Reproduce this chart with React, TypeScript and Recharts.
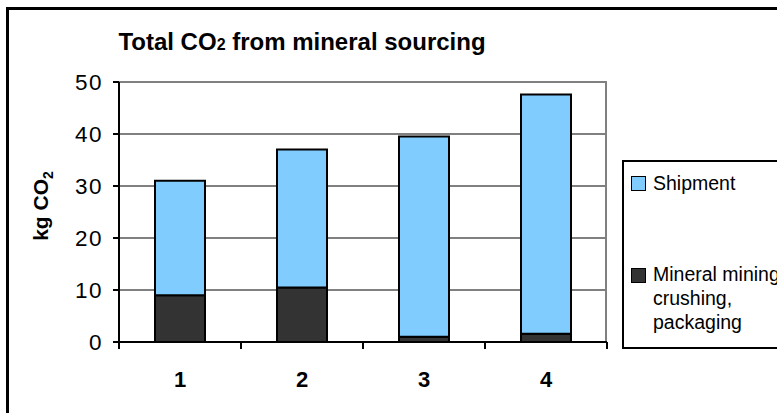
import { BarChart, Bar, XAxis, YAxis, CartesianGrid } from "recharts";

const categories = ["1", "2", "3", "4"];
const mining = [9, 10.5, 1, 1.6];
const shipment = [22, 26.5, 38.5, 46];
const yTicks = [0, 10, 20, 30, 40, 50];

const data = categories.map((c, i) => ({ name: c, mining: mining[i], shipment: shipment[i] }));

const W = 777;
const H = 413;
const MARGIN = { top: 82, right: 170, left: 60, bottom: 31 };
const Y_AXIS_W = 59;
const BAND = (W - MARGIN.left - Y_AXIS_W - MARGIN.right) / categories.length;

const FONT = "Arial, 'Liberation Sans', sans-serif";

const XTick = (props: any) => {
  const { x, y, payload, index } = props;
  const left = x - BAND / 2;
  return (
    <g>
      <line x1={left} y1={y - 8} x2={left} y2={y - 1} stroke="#000" strokeWidth={2} />
      {index === categories.length - 1 && (
        <line x1={x + BAND / 2} y1={y - 8} x2={x + BAND / 2} y2={y - 1} stroke="#000" strokeWidth={2} />
      )}
      <text x={x} y={y + 37} textAnchor="middle" fontFamily={FONT} fontWeight="bold" fontSize={22} fill="#000">
        {payload.value}
      </text>
    </g>
  );
};

const YTick = (props: any) => {
  const { x, y, payload } = props;
  return (
    <text x={x - 8} y={y + 8} textAnchor="end" fontFamily={FONT} fontSize={22.5} fill="#000" style={{ letterSpacing: 1.5 }}>
      {payload.value}
    </text>
  );
};

const LegendBox = () => (
  <div
    style={{
      position: "absolute",
      left: 622,
      top: 160,
      border: "2px solid #000",
      borderRight: "none",
      height: 189,
      width: 170,
      boxSizing: "border-box",
      fontFamily: FONT,
      fontSize: 19.5,
      color: "#000",
      background: "#fff",
    }}
  >
    <div style={{ position: "absolute", left: 7, top: 14, width: 13, height: 13, background: "#80ccff", border: "1.5px solid #000" }} />
    <div style={{ position: "absolute", left: 29, top: 9, lineHeight: "24px" }}>Shipment</div>
    <div style={{ position: "absolute", left: 7, top: 106, width: 13, height: 13, background: "#333", border: "1.5px solid #000" }} />
    <div style={{ position: "absolute", left: 29, top: 100, lineHeight: "24px", whiteSpace: "nowrap" }}>
      Mineral mining,
      <br />
      crushing,
      <br />
      packaging
    </div>
  </div>
);

const YLabel = (props: any) => {
  const { viewBox } = props;
  const cx = 48;
  const cy = viewBox.y + viewBox.height / 2 - 6;
  return (
    <text
      x={cx}
      y={cy}
      transform={`rotate(-90, ${cx}, ${cy})`}
      textAnchor="middle"
      fontFamily={FONT}
      fontWeight="bold"
      fontSize={21}
      fill="#000"
    >
      kg CO<tspan fontSize={14} dy={5}>2</tspan>
    </text>
  );
};

export default function App() {
  return (
    <div
      style={{
        position: "absolute",
        left: 0,
        top: 0,
        width: W,
        height: H,
        overflow: "hidden",
        background: "#fff",
      }}
    >
      <div
        style={{
          position: "absolute",
          left: 6,
          top: 7,
          width: W + 20,
          height: H + 20,
          borderLeft: "3px solid #000",
          borderTop: "3px solid #000",
        }}
      />
      <div
        style={{
          position: "absolute",
          left: 0,
          width: 604,
          top: 28,
          textAlign: "center",
          fontFamily: FONT,
          fontWeight: "bold",
          fontSize: 24,
          color: "#000",
        }}
      >
        Total CO<span style={{ fontSize: 16 }}>2</span> from mineral sourcing
      </div>
      <div style={{ position: "absolute", left: 0, top: 0 }}>
        <BarChart width={W} height={H} data={data} margin={MARGIN} barSize={50}>
          <CartesianGrid
            horizontal
            vertical
            stroke="#808080"
            strokeWidth={2}
            verticalCoordinatesGenerator={({ offset }: any) => [offset.left + offset.width - 1]}
          />
          <XAxis
            dataKey="name"
            axisLine={{ stroke: "#000", strokeWidth: 2 }}
            tickLine={false}
            tick={<XTick />}
            height={40}
            interval={0}
          />
          <YAxis
            width={Y_AXIS_W}
            domain={[0, 50]}
            ticks={yTicks}
            interval={0}
            axisLine={{ stroke: "#000", strokeWidth: 2 }}
            tickLine={{ stroke: "#000", strokeWidth: 2 }}
            tickSize={6}
            tick={<YTick />}
            label={<YLabel />}
          />
          <Bar dataKey="mining" stackId="a" fill="#333333" stroke="#000" strokeWidth={2} isAnimationActive={false} name="Mineral mining, crushing, packaging" />
          <Bar dataKey="shipment" stackId="a" fill="#80ccff" stroke="#000" strokeWidth={2} isAnimationActive={false} name="Shipment" />
        </BarChart>
      </div>
      <LegendBox />
    </div>
  );
}
